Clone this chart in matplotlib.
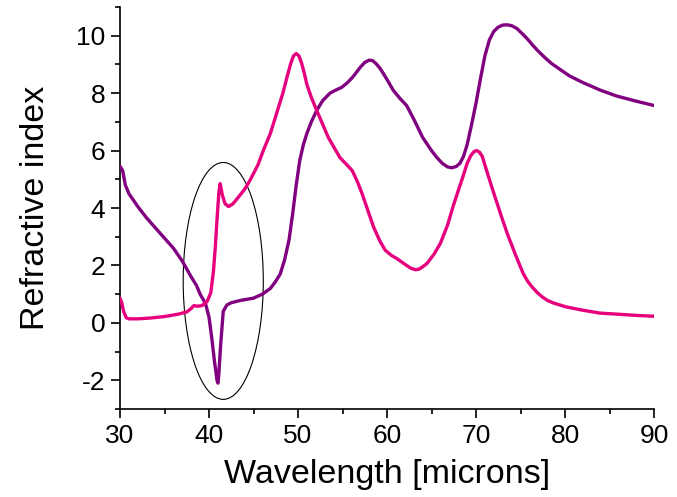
import matplotlib
matplotlib.use("Agg")
import matplotlib.pyplot as plt
from matplotlib.patches import Ellipse
from matplotlib.ticker import MultipleLocator

plt.rcParams['font.family'] = ['Liberation Sans', 'DejaVu Sans']
plt.rcParams['axes.unicode_minus'] = False

# Purple curve
purple_x = [30.0, 30.3, 30.6, 31.0, 32.0, 33.0, 34.0, 35.0, 36.0, 37.0, 38.0, 38.6, 39.0,
            39.6, 40.0, 40.3, 40.6, 40.9, 41.0, 41.1, 41.3, 41.6, 42.0, 42.5, 43.5, 45.0,
            46.0, 46.9, 47.5, 48.0, 48.5, 49.0, 49.4, 49.8, 50.2, 50.6, 51.0, 51.5, 52.1,
            52.8, 53.6, 54.2, 54.9, 55.5, 56.1, 57.0, 57.5, 58.0, 58.4, 58.8, 59.2, 59.6,
            60.2, 60.7, 61.5, 62.2, 63.0, 64.0, 65.0, 65.6, 66.2, 66.8, 67.3, 67.8, 68.2,
            68.6, 69.0, 69.5, 70.0, 70.5, 71.0, 71.5, 72.0, 72.5, 73.0, 73.5, 74.0, 74.6,
            75.2, 75.8, 76.4, 77.0, 77.8, 78.5, 79.1, 80.5, 82.0, 84.0, 85.8, 88.0, 90.0]
purple_y = [5.45, 5.3, 4.8, 4.5, 4.05, 3.65, 3.3, 2.95, 2.6, 2.15, 1.6, 1.3, 1.0,
            0.68, 0.2, -0.5, -1.3, -2.0, -2.1, -1.8, -0.8, 0.4, 0.62, 0.7, 0.78, 0.86,
            1.0, 1.2, 1.45, 1.7, 2.2, 2.9, 3.8, 4.8, 5.66, 6.2, 6.6, 7.0, 7.4,
            7.75, 8.0, 8.1, 8.2, 8.35, 8.54, 8.9, 9.07, 9.15, 9.13, 9.02, 8.87, 8.68,
            8.37, 8.1, 7.8, 7.57, 7.1, 6.46, 6.0, 5.76, 5.56, 5.43, 5.4, 5.45, 5.56,
            5.8, 6.2, 6.9, 7.65, 8.5, 9.3, 9.85, 10.15, 10.3, 10.37, 10.38, 10.35, 10.25,
            10.07, 9.88, 9.66, 9.46, 9.22, 9.03, 8.9, 8.6, 8.37, 8.1, 7.9, 7.72, 7.57]

# Magenta curve
magenta_x = [30.0, 30.2, 30.4, 30.7, 31.0, 32.0, 33.5, 35.0, 36.5, 37.5, 38.0, 38.3, 38.7,
             39.2, 39.8, 40.2, 40.5, 40.7, 40.9, 41.1, 41.25, 41.5, 41.8, 42.2, 42.7, 43.1,
             44.0, 44.6, 45.5, 46.1, 46.9, 47.6, 48.3, 48.8, 49.2, 49.5, 49.8, 50.1, 50.4,
             50.7, 51.0, 51.5, 52.1, 53.4, 54.7, 55.5, 56.1, 56.7, 57.2, 58.5, 59.2, 59.8,
             60.5, 61.1, 62.2, 62.7, 63.2, 63.6, 64.0, 64.5, 65.3, 66.0, 66.8, 67.4, 68.0,
             68.5, 69.0, 69.4, 69.8, 70.1, 70.4, 70.7, 71.0, 71.4, 71.9, 72.7, 73.5, 74.4,
             75.3, 75.8, 76.3, 76.9, 77.5, 78.1, 78.8, 80.2, 82.0, 83.9, 86.0, 88.0, 90.0]
magenta_y = [0.85, 0.7, 0.4, 0.18, 0.14, 0.14, 0.17, 0.22, 0.3, 0.38, 0.5, 0.6, 0.58,
             0.6, 0.75, 1.05, 1.8, 2.6, 3.6, 4.5, 4.85, 4.45, 4.15, 4.05, 4.15, 4.3,
             4.65, 4.96, 5.5, 6.0, 6.6, 7.3, 8.0, 8.6, 9.05, 9.3, 9.38, 9.3, 9.05,
             8.7, 8.3, 7.85, 7.4, 6.46, 5.76, 5.5, 5.3, 4.9, 4.5, 3.33, 2.85, 2.53,
             2.35, 2.24, 2.0, 1.9, 1.85, 1.87, 1.95, 2.07, 2.4, 2.77, 3.4, 4.03, 4.6,
             5.06, 5.55, 5.82, 5.97, 6.0, 5.94, 5.8, 5.5, 5.1, 4.61, 3.85, 3.12, 2.4,
             1.72, 1.45, 1.25, 1.05, 0.89, 0.77, 0.68, 0.55, 0.44, 0.34, 0.3, 0.26, 0.23]

x_ticks = [30, 40, 50, 60, 70, 80, 90]
y_ticks = [-2, 0, 2, 4, 6, 8, 10]

fig = plt.figure(figsize=(6.77, 4.97), dpi=100)
ax = fig.add_axes([120/677, 88/497, 534/677, 402/497])

ax.plot(purple_x, purple_y, color='#800080', lw=2.4, solid_joinstyle='round', zorder=3)
ax.plot(magenta_x, magenta_y, color='#E6007E', lw=2.4, solid_joinstyle='round', zorder=3)

ax.add_patch(Ellipse((41.6, 1.46), 9.0, 8.25, fill=False, edgecolor='black', lw=0.8, zorder=2))

ax.set_xlim(30, 90)
ax.set_ylim(-3, 11)
ax.set_xticks(x_ticks)
ax.set_yticks(y_ticks)
ax.xaxis.set_minor_locator(MultipleLocator(5))
ax.yaxis.set_minor_locator(MultipleLocator(1))

for s in ['top', 'right']:
    ax.spines[s].set_visible(False)
for s in ['left', 'bottom']:
    ax.spines[s].set_linewidth(1.2)

ax.tick_params(which='major', direction='out', length=6.5, width=1.2, labelsize=19, pad=4)
ax.tick_params(which='minor', direction='out', length=3.5, width=1.2)

ax.set_xlabel('Wavelength [microns]', fontsize=24.5, labelpad=8)
ax.set_ylabel('Refractive index', fontsize=24.5, labelpad=18)

fig.savefig('out.png', dpi=100)
